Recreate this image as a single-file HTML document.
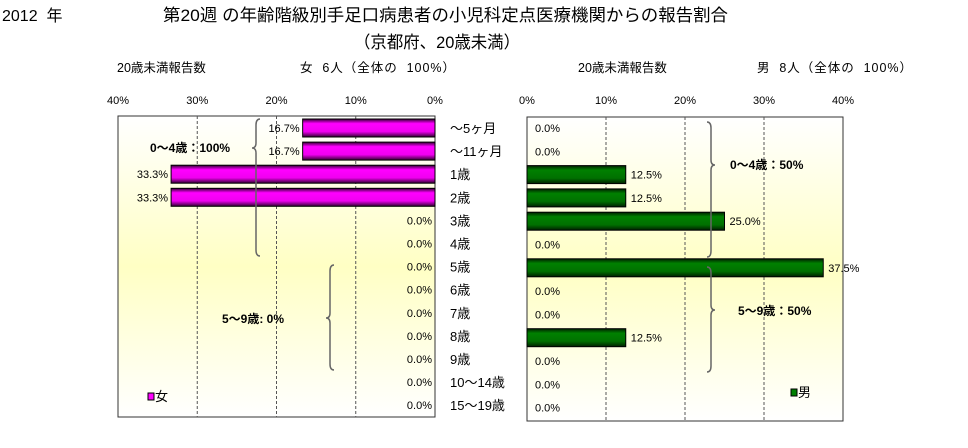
<!DOCTYPE html>
<html><head><meta charset="utf-8"><style>
body{margin:0;background:#fff;width:968px;height:443px;overflow:hidden;font-family:"Liberation Sans","Noto Sans CJK JP",sans-serif}
text{font-family:"Liberation Sans","Noto Sans CJK JP",sans-serif}
</style></head><body>
<svg id="c" width="968" height="443">
<defs>
<linearGradient id="bg" x1="0" y1="0" x2="0" y2="1"><stop offset="0" stop-color="#fff"/><stop offset="0.5" stop-color="#ffffc4"/><stop offset="1" stop-color="#fff"/></linearGradient>
<linearGradient id="mg" x1="0" y1="0" x2="0" y2="1"><stop offset="0" stop-color="#300030"/><stop offset="0.25" stop-color="#ff00ff"/><stop offset="0.7" stop-color="#f000f0"/><stop offset="1" stop-color="#300030"/></linearGradient>
<linearGradient id="gg" x1="0" y1="0" x2="0" y2="1"><stop offset="0" stop-color="#002000"/><stop offset="0.25" stop-color="#008000"/><stop offset="0.7" stop-color="#007000"/><stop offset="1" stop-color="#002000"/></linearGradient>
</defs>
<text x="2" y="21" font-size="16" xml:space="preserve">2012  年</text>
<text x="163" y="21" font-size="17" textLength="565" lengthAdjust="spacingAndGlyphs">第20週 の年齢階級別手足口病患者の小児科定点医療機関からの報告割合</text>
<text x="354" y="48" font-size="17" textLength="166" lengthAdjust="spacingAndGlyphs">（京都府、20歳未満）</text>
<text x="117" y="72" font-size="12.5">20歳未満報告数</text>
<text x="300" y="72" font-size="12.5" xml:space="preserve" textLength="155" lengthAdjust="spacing">女  6人（全体の  100%）</text>
<text x="578" y="72" font-size="12.5">20歳未満報告数</text>
<text x="757" y="72" font-size="12.5" xml:space="preserve" textLength="155" lengthAdjust="spacing">男  8人（全体の  100%）</text>
<g id="g"></g>
</svg>
<script>
const categories=["～5ヶ月","～11ヶ月","1歳","2歳","3歳","4歳","5歳","6歳","7歳","8歳","9歳","10～14歳","15～19歳"];
const femaleValues=[16.7,16.7,33.3,33.3,0,0,0,0,0,0,0,0,0];
const maleValues=[0,0,12.5,12.5,25.0,0,37.5,0,0,12.5,0,0,0];
const tickLabels=["0%","10%","20%","30%","40%"];
const tickValues=[0,10,20,30,40];
const NS="http://www.w3.org/2000/svg";
const g=document.getElementById('g');
function el(t,a,txt){const e=document.createElementNS(NS,t);for(const k in a)e.setAttribute(k,a[k]);if(txt!=null)e.textContent=txt;g.appendChild(e);return e;}
const L={x0:435,x40:118,top:116,bot:417,y0:128,step:23.1};
const R={x0:527,x40:843,top:117,bot:421,y0:128,step:23.3};
function xs(p,v){return p.x0+(p.x40-p.x0)*v/40;}
function ys(p,i){return p.y0+i*p.step;}
function panel(p,vals,fill,side){
  const xl=Math.min(p.x0,p.x40),w=Math.abs(p.x40-p.x0);
  let e=el('rect',{x:xl,y:p.top,width:w,height:p.bot-p.top,fill:'url(#bg)',stroke:'#333','stroke-width':1});
  
  
  tickValues.forEach((v,i)=>{
    const x=xs(p,v);
    if(v>0&&v<40){e=el('line',{x1:x,x2:x,y1:p.top,y2:p.bot,stroke:'#555','stroke-dasharray':'3,2'});
    
    }
    e=el('text',{x:x,y:104,'font-size':11,'text-anchor':'middle'},tickLabels[i]);
    
    
  });
  vals.forEach((v,i)=>{
    const y=ys(p,i),x=xs(p,v);
    if(v>0){e=el('rect',{x:Math.min(x,p.x0),y:y-9,width:Math.abs(x-p.x0),height:18,fill:fill,stroke:'#000','stroke-width':1});
    
    }
    const lx=side==='female'?x-3:x+(v>0?5:8);
    e=el('text',{x:lx,y:y+4,'font-size':11,'text-anchor':side==='female'?'end':'start'},v.toFixed(1)+'%');
    
    
  });
}
panel(L,femaleValues,'url(#mg)','female');
panel(R,maleValues,'url(#gg)','male');
categories.forEach((c,i)=>{
  const e=el('text',{x:450,y:ys(L,i)+5,'font-size':13},c);
  
  
});
function brace(x,y1,y2,ym,dir){
  const d=4*dir;
  return `M${x+d},${y1} Q${x},${y1} ${x},${y1+6} L${x},${ym-5} Q${x},${ym} ${x-d},${ym} Q${x},${ym} ${x},${ym+5} L${x},${y2-6} Q${x},${y2} ${x+d},${y2}`;
}
let e=el('path',{d:brace(256,119,256,148,1),fill:'none',stroke:'#666','stroke-width':1.5});


e=el('path',{d:brace(330,265,370,318,1),fill:'none',stroke:'#666','stroke-width':1.5});


e=el('path',{d:brace(711,122,257,165,-1),fill:'none',stroke:'#666','stroke-width':1.5});


e=el('path',{d:brace(711,267,372,310,-1),fill:'none',stroke:'#666','stroke-width':1.5});


e=el('text',{x:150,y:152,'font-size':12,'font-weight':'bold'},'0～4歳：100%');


e=el('text',{x:222,y:323,'font-size':12,'font-weight':'bold'},'5～9歳:  0%');


e=el('text',{x:730,y:169,'font-size':12,'font-weight':'bold'},'0～4歳：50%');


e=el('text',{x:738,y:315,'font-size':12,'font-weight':'bold'},'5～9歳：50%');


e=el('rect',{x:148,y:393,width:6,height:7,fill:'#ff00ff',stroke:'#000'});


e=el('text',{x:155,y:401,'font-size':13},'女');


e=el('rect',{x:791,y:389,width:6,height:7,fill:'#008000',stroke:'#000'});


e=el('text',{x:798,y:397,'font-size':13},'男');


</script>
</body></html>
